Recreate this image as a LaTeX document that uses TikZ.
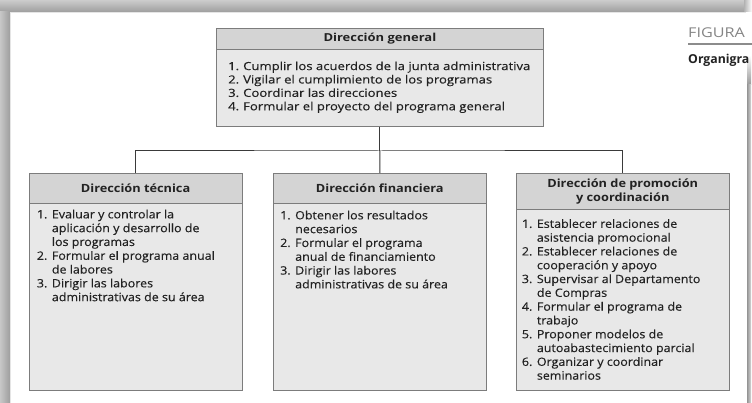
\documentclass[tikz,border=0pt]{standalone}
\usepackage{fontspec}
\setmainfont{Open Sans}
\newfontfamily\upfont[FakeStretch=1.17,FakeBold=0.35]{Open Sans}
\newfontfamily\lowfont[FakeStretch=1.085,FakeBold=0.35]{Open Sans}
\newfontfamily\upheadfont[FakeStretch=1.18]{Open Sans}
\newfontfamily\lowheadfont[FakeStretch=1.13]{Open Sans}
\newfontfamily\capfont[FakeStretch=1.2]{Open Sans}
\usetikzlibrary{calc}
\definecolor{hdr}{HTML}{D4D4D4}
\definecolor{bdy}{HTML}{E8E8E8}
\definecolor{edge}{HTML}{7C7C7C}
\definecolor{ink}{HTML}{222222}
\definecolor{conn}{HTML}{3A3A3A}
\begin{document}
\begin{tikzpicture}[x=1pt,y=-1pt,
  hdrbox/.style={draw=edge, fill=hdr, line width=0.8pt, anchor=north west, inner sep=0pt, text=ink, align=center},
  bodybox/.style={draw=edge, fill=bdy, line width=0.8pt, anchor=north west, inner sep=0pt},
  uptxt/.style={anchor=north west, inner sep=0pt, text=ink, font=\upfont\fontsize{11.2}{13.4}\selectfont},
  lowtxt/.style={anchor=north west, inner sep=0pt, text=ink, font=\lowfont\fontsize{11.5}{13.8}\selectfont},
  uphead/.style={font=\upheadfont\bfseries\fontsize{11}{13}\selectfont},
  lowhead/.style={font=\lowheadfont\bfseries\fontsize{11.3}{13.8}\selectfont},
  conline/.style={draw=conn, line width=1pt}]
\useasboundingbox (0,0) rectangle (752,403);
% page with drop shadow
\fill[white] (0,0) rectangle (752,403);
\shade[top color=black!20, bottom color=black!38] (0,0) rectangle (744,12);
\shade[left color=black!22, right color=black!38] (0,12) rectangle (10,403);
\shade[top color=white, bottom color=black!40] (747,55) rectangle (751,85);
\shade[left color=black!42, right color=black!15] (747,85) rectangle (751,403);
\shade[left color=black!30, right color=white] (744,0) rectangle (752,12);
\fill[white] (10,12) rectangle (747,403);
\draw[black!10, line width=1.2pt] (10.6,403) -- (10.6,12.6) -- (746.4,12.6);

% figure caption fragment
\node[anchor=west, inner sep=0pt, text=black!48, font=\capfont\fontsize{13.5}{15}\selectfont] (fig) at (688,33) {FIGURA};
\draw[black!45, line width=1.3pt] (fig.west |- 0,44) -- (752,44);
\node[anchor=west, inner sep=0pt, text=ink, font=\bfseries\fontsize{12.3}{14}\selectfont] (org) at (688,60) {Organigra};

% top box
\node[bodybox, minimum width=327pt, minimum height=77pt] (gb) at (216,49) {};
\node[hdrbox, uphead, minimum width=327pt, minimum height=21pt] (gh) at (216,28) {Dirección general};
\node[uptxt] (gt) at ($(gb.north west)+(12,11.5)$) {%
\begin{tabular}{@{}p{15pt}@{}l@{}}
1. & Cumplir los acuerdos de la junta administrativa\\
2. & Vigilar el cumplimiento de los programas\\
3. & Coordinar las direcciones\\
4. & Formular el proyecto del programa general
\end{tabular}};

% box 1
\node[bodybox, minimum width=213pt, minimum height=187pt] (ab) at (28.7,203) {};
\node[hdrbox, lowhead, minimum width=213pt, minimum height=30pt] (ah) at (28.7,173) {Dirección técnica};
\node[lowtxt] (at) at ($(ab.north west)+(8,5.5)$) {%
\begin{tabular}{@{}p{15pt}@{}l@{}}
1. & Evaluar y controlar la\\
   & aplicación y desarrollo de\\
   & los programas\\
2. & Formular el programa anual\\
   & de labores\\
3. & Dirigir las labores\\
   & administrativas de su área
\end{tabular}};

% box 2
\node[bodybox, minimum width=213.3pt, minimum height=187pt] (bb) at (272.7,203) {};
\node[hdrbox, lowhead, minimum width=213.3pt, minimum height=30pt] (bh) at (272.7,173) {Dirección financiera};
\node[lowtxt] (bt) at ($(bb.north west)+(7.3,6.5)$) {%
\begin{tabular}{@{}p{15pt}@{}l@{}}
1. & Obtener los resultados\\
   & necesarios\\
2. & Formular el programa\\
   & anual de financiamiento\\
3. & Dirigir las labores\\
   & administrativas de su área
\end{tabular}};

% box 3
\node[bodybox, minimum width=213.3pt, minimum height=181pt] (cb) at (515.7,209) {};
\node[hdrbox, lowhead, minimum width=213.3pt, minimum height=36pt] (ch) at (515.7,173) {Dirección de promoción\\y coordinación};
\node[lowtxt] (ct) at ($(cb.north west)+(6,9)$) {%
\begin{tabular}{@{}p{15pt}@{}l@{}}
1. & Establecer relaciones de\\
   & asistencia promocional\\
2. & Establecer relaciones de\\
   & cooperación y apoyo\\
3. & Supervisar al Departamento\\
   & de Compras\\
4. & Formular el programa de\\
   & trabajo\\
5. & Proponer modelos de\\
   & autoabastecimiento parcial\\
6. & Organizar y coordinar\\
   & seminarios
\end{tabular}};

% connectors
\coordinate (bus) at (380,151);
\draw[conline] (gb.south) -- (gb.south |- bus);
\draw[conline] (ah.north) |- (bus) -| (ch.north);
\draw[conline] (gb.south |- bus) -- (bh.north);
\end{tikzpicture}
\end{document}
